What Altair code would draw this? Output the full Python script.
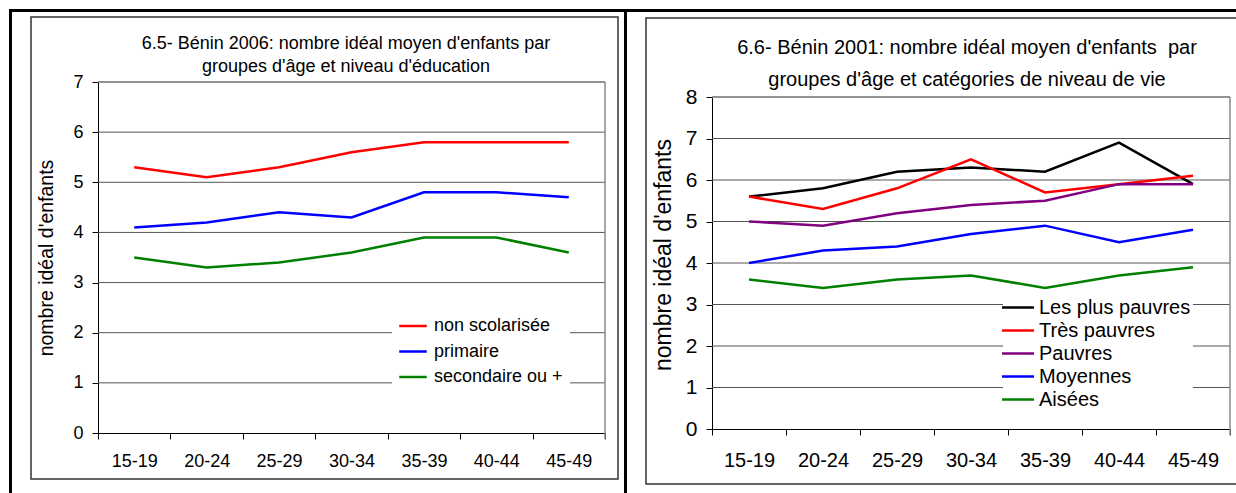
import altair as alt
import pandas as pd

# ---------------- data ----------------
ages = ["15-19", "20-24", "25-29", "30-34", "35-39", "40-44", "45-49"]

edu_series = ["non scolarisée", "primaire", "secondaire ou +"]
edu_non_scol = [5.3, 5.1, 5.3, 5.6, 5.8, 5.8, 5.8]
edu_primaire = [4.1, 4.2, 4.4, 4.3, 4.8, 4.8, 4.7]
edu_secondaire = [3.5, 3.3, 3.4, 3.6, 3.9, 3.9, 3.6]
edu_colors = ["#ff0000", "#0000ff", "#008000"]
edu_ticks = [0, 1, 2, 3, 4, 5, 6, 7]

nv_series = ["Les plus pauvres", "Très pauvres", "Pauvres", "Moyennes", "Aisées"]
nv_plus_pauvres = [5.6, 5.8, 6.2, 6.3, 6.2, 6.9, 5.9]
nv_tres_pauvres = [5.6, 5.3, 5.8, 6.5, 5.7, 5.9, 6.1]
nv_pauvres = [5.0, 4.9, 5.2, 5.4, 5.5, 5.9, 5.9]
nv_moyennes = [4.0, 4.3, 4.4, 4.7, 4.9, 4.5, 4.8]
nv_aisees = [3.6, 3.4, 3.6, 3.7, 3.4, 3.7, 3.9]
nv_colors = ["#000000", "#ff0000", "#800080", "#0000ff", "#008000"]
nv_ticks = [0, 1, 2, 3, 4, 5, 6, 7, 8]

left_title = ["6.5- Bénin 2006: nombre idéal moyen d'enfants par",
              "groupes d'âge et niveau d'éducation"]
right_title = ["6.6- Bénin 2001: nombre idéal moyen d'enfants\u00a0 par",
               "groupes d'âge et catégories de niveau de vie"]
y_title = "nombre idéal d'enfants"

# ---------------- layout ----------------
W, H = 1236, 493
FONT = "Liberation Sans, Arial, sans-serif"
GRID = "#555555"
FRAME = "#8a8a8a"


def make_df(series, arrays):
    rows = []
    for s, vals in zip(series, arrays):
        for a, v in zip(ages, vals):
            rows.append({"age": a, "series": s, "value": v})
    return pd.DataFrame(rows)


def panel(df, series, colors, ticks, box, fs_x, fs_y, lab_pad, legend):
    x0, x1, ytop, ybot = box
    x_enc = alt.X(
        "age:N", sort=ages, bandPosition=0.5,
        scale=alt.Scale(type="band", domain=ages, range=[x0, x1],
                        paddingInner=0, paddingOuter=0),
        axis=alt.Axis(orient="bottom", offset=-(H - ybot), tickBand="extent",
                      tickSize=6, tickColor="black", domainColor="black",
                      labelFont=FONT, labelFontSize=fs_x, labelColor="black",
                      labelPadding=lab_pad, labelAngle=0, title=None, grid=False))
    y_enc = alt.Y(
        "value:Q",
        scale=alt.Scale(domain=[ticks[0], ticks[-1]], range=[ybot, ytop],
                        nice=False, zero=False),
        axis=alt.Axis(orient="left", offset=-x0, values=ticks, format="d",
                      tickSize=6, tickColor="black", domainColor="black",
                      labelFont=FONT, labelFontSize=fs_y, labelColor="black",
                      labelPadding=9, title=None, grid=False))
    grid = alt.Chart(pd.DataFrame({"value": ticks[1:]})).mark_rule(
        color=GRID, strokeWidth=1).encode(
        y=y_enc, x=alt.value(x0), x2=alt.value(x1))
    frame_right = alt.Chart(pd.DataFrame({"value": [ticks[0]]})).mark_rule(
        color=FRAME, strokeWidth=1.5).encode(
        x=alt.value(x1), y=alt.value(ytop), y2=alt.value(ybot + 6))
    lines = alt.Chart(df).mark_line(strokeWidth=2.5).encode(
        x=x_enc, y=y_enc,
        color=alt.Color("series:N", sort=series,
                        scale=alt.Scale(domain=series, range=colors),
                        legend=legend))
    return alt.layer(grid, frame_right, lines)


left_df = make_df(edu_series, [edu_non_scol, edu_primaire, edu_secondaire])
right_df = make_df(nv_series, [nv_plus_pauvres, nv_tres_pauvres, nv_pauvres,
                               nv_moyennes, nv_aisees])

left_legend = alt.Legend(orient="none", legendX=392, legendY=305, title=None,
                         fillColor="white", padding=7,
                         symbolType="M-1.1,0H1.1", symbolSize=625,
                         symbolStrokeWidth=2.5, labelFont=FONT,
                         labelFontSize=18, labelColor="black", labelOffset=7,
                         rowPadding=2.5, labelLimit=400)
right_legend = alt.Legend(orient="none", legendX=1003, legendY=292.5, title=None,
                          fillColor="white", padding=2,
                          symbolType="M-1.39,0H1.39", symbolSize=529,
                          symbolStrokeWidth=2.5, labelFont=FONT,
                          labelFontSize=20, labelColor="black", labelOffset=8,
                          rowPadding=0, labelLimit=400)

left_panel = panel(left_df, edu_series, edu_colors, edu_ticks,
                   (98, 605, 82, 433), 18, 18, 13, left_legend)
right_panel = panel(right_df, nv_series, nv_colors, nv_ticks,
                    (712, 1230, 97, 429), 20, 21, 15, right_legend)

one = pd.DataFrame({"k": [0]})


def rule(x, y, x2, y2, color="black", width=1.0):
    return alt.Chart(one).mark_rule(color=color, strokeWidth=width).encode(
        x=alt.value(x), y=alt.value(y), x2=alt.value(x2), y2=alt.value(y2))


def box(x, y, x2, y2, color="#333333", width=1.5):
    return alt.Chart(one).mark_rect(filled=False, stroke=color,
                                    strokeWidth=width).encode(
        x=alt.value(x), y=alt.value(y), x2=alt.value(x2), y2=alt.value(y2))


def text(t, x, y, size, angle=0):
    return alt.Chart(one).mark_text(font=FONT, fontSize=size, color="black",
                                    align="center", baseline="middle",
                                    angle=angle).encode(
        x=alt.value(x), y=alt.value(y), text=alt.value(t))


deco = [
    box(31, 17, 618, 479),
    box(646, 18, 1250, 484),
    rule(9, 10.5, W, 10.5, width=3),
    rule(10.5, 9, 10.5, H, width=3),
    rule(625.5, 9, 625.5, H, width=3),
    rule(98, 82, 605, 82, color=FRAME, width=1.5),
    rule(712, 97, 1230, 97, color=FRAME, width=1.5),
    text(left_title[0], 346, 44, 18),
    text(left_title[1], 346, 67, 18),
    text(right_title[0], 967, 48, 20),
    text(right_title[1], 967, 80, 20),
    text(y_title, 47, 258, 19.5, angle=270),
    text(y_title, 664, 255, 23, angle=270),
]

chart = alt.layer(left_panel, right_panel, *deco).resolve_scale(
    x="independent", y="independent", color="independent"
).properties(
    width=W, height=H, padding=0,
    autosize=alt.AutoSizeParams(type="none"),
    background="white",
).configure_view(stroke=None)

chart.save("out.html", embed_options={"renderer": "svg", "actions": False})
